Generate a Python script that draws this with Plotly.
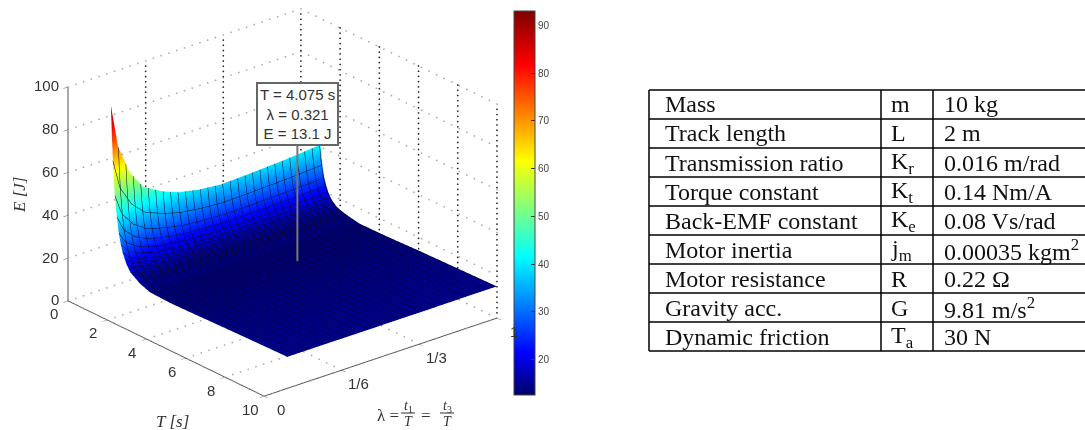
import numpy as np
import plotly.graph_objects as go

T_vals = [1, 1.05, 1.1, 1.15, 1.2, 1.3, 1.4, 1.5, 1.6, 1.8, 2, 2.5, 3, 4, 5, 6, 8, 10]
lam_vals = [.05, .065, .09, .12, .16, .195, .24, .285, .345, .425, .5]
# one row per T value, one column per lambda value
E_table = [
    [92.0, 72.0, 58.0, 49.0, 44.0, 41.0, 39.0, 38.0, 38.5, 39.5, 41.0],
    [77.8, 61.4, 49.9, 42.5, 38.4, 36.0, 34.3, 33.5, 33.9, 34.7, 36.0],
    [66.7, 53.1, 43.6, 37.5, 34.1, 32.0, 30.7, 30.0, 30.3, 31.0, 32.0],
    [58.0, 46.6, 38.7, 33.5, 30.7, 29.0, 27.8, 27.3, 27.5, 28.1, 29.0],
    [50.9, 41.3, 34.6, 30.3, 27.9, 26.4, 25.5, 25.0, 25.2, 25.7, 26.4],
    [41.4, 34.2, 29.2, 26.0, 24.2, 23.1, 22.4, 22.0, 22.2, 22.5, 23.1],
    [34.3, 28.9, 25.2, 22.7, 21.4, 20.6, 20.0, 19.8, 19.9, 20.2, 20.6],
    [29.6, 25.4, 22.5, 20.6, 19.5, 18.9, 18.5, 18.3, 18.4, 18.6, 18.9],
    [26.0, 22.7, 20.4, 18.9, 18.1, 17.6, 17.3, 17.1, 17.2, 17.4, 17.6],
    [21.3, 19.2, 17.7, 16.8, 16.3, 15.9, 15.7, 15.6, 15.7, 15.8, 15.9],
    [18.5, 17.1, 16.2, 15.5, 15.2, 15.0, 14.8, 14.8, 14.8, 14.9, 15.0],
    [15.4, 14.8, 14.4, 14.1, 13.9, 13.8, 13.8, 13.8, 13.8, 13.8, 13.8],
    [13.7, 13.4, 13.2, 13.1, 13.0, 13.0, 12.9, 12.9, 12.9, 13.0, 13.0],
    [13.3, 13.2, 13.1, 13.1, 13.1, 13.0, 13.0, 13.0, 13.0, 13.0, 13.1],
    [13.5, 13.4, 13.3, 13.3, 13.3, 13.3, 13.3, 13.3, 13.3, 13.3, 13.4],
    [13.8, 13.8, 13.7, 13.7, 13.7, 13.7, 13.7, 13.7, 13.7, 13.7, 13.8],
    [14.3, 14.3, 14.3, 14.2, 14.2, 14.2, 14.2, 14.2, 14.2, 14.3, 14.3],
    [14.7, 14.7, 14.7, 14.7, 14.7, 14.7, 14.7, 14.7, 14.7, 14.8, 14.8],
]
T_ticks = [0, 2, 4, 6, 8, 10]
lam_ticks = [0, 1/6, 1/3, 1/2]
lam_labels = ["0", "1/6", "1/3", "1"]
E_ticks = [0, 20, 40, 60, 80, 100]
cbar_ticks = [20, 30, 40, 50, 60, 70, 80, 90]
tip_T, tip_lam, tip_E, tip_top, tip_box = 4.075, 0.321, 13.1, 68.7, 82.2

param_names = ["Mass", "Track length", "Transmission ratio", "Torque constant", "Back-EMF constant",
               "Motor inertia", "Motor resistance", "Gravity acc.", "Dynamic friction"]
param_syms = ["m", "L", "K<sub>r</sub>", "K<sub>t</sub>", "K<sub>e</sub>", "j<sub>m</sub>", "R", "G", "T<sub>a</sub>"]
param_vals = ["10 kg", "2 m", "0.016 m/rad", "0.14 Nm/A", "0.08 Vs/rad", "0.00035 kgm<sup>2</sup>",
              "0.22 Ω", "9.81 m/s<sup>2</sup>", "30 N"]

W, H = 1085, 430
jet = [[0, "rgb(0,0,105)"], [.11, "rgb(0,0,255)"], [.36, "rgb(0,255,255)"],
       [.61, "rgb(255,255,0)"], [.86, "rgb(255,0,0)"], [1, "rgb(128,0,0)"]]
SCENE_DOM = dict(x=[0, 565 / W], y=[1 - 405 / H, 1])

fig = go.Figure()
fig.add_trace(go.Surface(
    x=T_vals, y=lam_vals, z=np.array(E_table).T, colorscale=jet, cmin=12.6, cmax=93,
    lighting=dict(ambient=1, diffuse=0, specular=0, roughness=1, fresnel=0),
    hoverinfo="skip",
    contours=dict(
        x=dict(show=True, start=1, end=2.5, size=0.1, color="#0a0a20", width=2),
        y=dict(show=True, start=0.05, end=0.5, size=0.016, color="#05052a", width=3),
    ),
    colorbar=dict(
        x=514 / W, xanchor="left", xpad=0, y=1 - 11 / H, yanchor="top", ypad=0,
        len=384 / H, lenmode="fraction", thickness=21, thicknessmode="pixels",
        tickvals=cbar_ticks, ticks="inside", ticklen=4, tickcolor="#333",
        tickfont=dict(family="Liberation Sans", size=10, color="#444"),
        outlinecolor="#444", outlinewidth=1,
    ),
))

Tmin, Tmax, Lmin, Lmax, Zmin, Zmax = 0, 10, 0, .5, 0, 100


def grid_dots(a, b, color, n):
    """Dotted gridline between two (T, lambda, E) corners of the axes box."""
    s = np.linspace(0, 1, n)
    fig.add_trace(go.Scatter3d(
        x=a[0] + (b[0] - a[0]) * s, y=a[1] + (b[1] - a[1]) * s, z=a[2] + (b[2] - a[2]) * s,
        mode="markers", marker=dict(size=1, color=color, line=dict(width=0)),
        showlegend=False, hoverinfo="skip"))


for t in T_ticks:
    grid_dots((t, Lmax, Zmin), (t, Lmax, Zmax), "#222", 42)
    grid_dots((t, Lmin, Zmin), (t, Lmax, Zmin), "#aaa", 31)
for l in lam_ticks:
    if l > 0:
        grid_dots((Tmin, l, Zmin), (Tmin, l, Zmax), "#222", 42)
    grid_dots((Tmin, l, Zmin), (Tmax, l, Zmin), "#aaa", 27)
for z in E_ticks:
    grid_dots((Tmin, Lmin, z), (Tmin, Lmax, z), "#aaa", 31)
    grid_dots((Tmin, Lmax, z), (Tmax, Lmax, z), "#aaa", 27)

fig.add_trace(go.Scatter3d(x=[tip_T, tip_T], y=[tip_lam, tip_lam], z=[tip_E, tip_top], mode="lines",
                           showlegend=False, hoverinfo="skip", line=dict(color="#777777", width=4)))

axis_common = dict(showgrid=False, zeroline=False, showbackground=False, showline=True,
                   linecolor="#555", linewidth=2, ticks="inside", ticklen=6, tickcolor="#555",
                   showticklabels=False, title=dict(text=""), showspikes=False)


def note(x, y, text, size=14, family="Liberation Serif", color="#333", xanchor="center", **kw):
    fig.add_annotation(x=x / W, y=1 - y / H, xref="paper", yref="paper", text=text, showarrow=False,
                       font=dict(family=family, size=size, color=color), xanchor=xanchor, yanchor="middle", **kw)


def rule(x0, y0, x1, y1, color="black", width=1.5):
    fig.add_shape(type="line", xref="paper", yref="paper", x0=x0 / W, x1=x1 / W,
                  y0=1 - y0 / H, y1=1 - y1 / H, line=dict(color=color, width=width))


note(20, 195, "<i>E [J]</i>", size=17, textangle=-90)
note(173, 421, "<i>T [s]</i>", size=17)
note(388, 415, "λ =", size=17)
note(408, 406, "<i>t</i><sub>1</sub>", size=14)
note(408, 421, "<i>T</i>", size=14)
note(426, 415, "=", size=17)
note(447, 406, "<i>t</i><sub>3</sub>", size=14)
note(447, 421, "<i>T</i>", size=14)
for bar_x in (408, 447):
    rule(bar_x - 7, 413, bar_x + 7, 413, color="#333", width=1)

# parameter table
TX = [649, 881, 933, W]
TY0, ROW = 90, 29
n_rows = len(param_names)
for i in range(n_rows + 1):
    rule(TX[0], TY0 + i * ROW, W, TY0 + i * ROW)
for x in TX[:3]:
    rule(x, TY0, x, TY0 + n_rows * ROW)
for i in range(n_rows):
    yc = TY0 + (i + 0.5) * ROW
    for x, col in zip((663, 889, 942), (param_names, param_syms, param_vals)):
        note(x, yc, col[i], size=24, color="#111", xanchor="left")

tick_font = dict(family="Liberation Sans", size=15, color="#333")
scene_notes = [dict(x=tip_T, y=tip_lam, z=tip_box, showarrow=False, bgcolor="white",
                    bordercolor="#666", borderwidth=2, borderpad=2, xanchor="center", yanchor="middle",
                    text="T = 4.075 s<br>λ = 0.321<br>E = 13.1 J",
                    font=dict(family="Liberation Sans", size=15, color="#333"))]
for e in E_ticks:
    scene_notes.append(dict(x=Tmin, y=Lmin, z=e, text=str(e), showarrow=False, font=tick_font,
                            xanchor="right", yanchor="middle", xshift=-7, yshift=1))
for t in T_ticks:
    scene_notes.append(dict(x=t, y=Lmin, z=Zmin, text=str(t), showarrow=False, font=tick_font,
                            xanchor="center", yanchor="middle", xshift=-14, yshift=-13))
for l, txt in zip(lam_ticks, lam_labels):
    scene_notes.append(dict(x=Tmax, y=l, z=Zmin, text=txt, showarrow=False, font=tick_font,
                            xanchor="center", yanchor="middle", xshift=17, yshift=-13))

fig.update_layout(
    width=W, height=H, margin=dict(l=0, r=0, t=0, b=0), paper_bgcolor="white", showlegend=False,
    scene=dict(
        domain=SCENE_DOM,
        xaxis=dict(range=[Tmin, Tmax], tickvals=T_ticks, **axis_common),
        yaxis=dict(range=[Lmin, Lmax], tickvals=lam_ticks, **axis_common),
        zaxis=dict(range=[Zmin, Zmax], tickvals=E_ticks, **axis_common),
        aspectmode="manual", aspectratio=dict(x=1.515, y=1.495, z=1.155),
        camera=dict(projection=dict(type="orthographic"), center=dict(x=0, y=0, z=0),
                    eye=dict(x=.769 * .98, y=-.639 * .98, z=.441 * .98), up=dict(x=0, y=0, z=1)),
        annotations=scene_notes,
    ),
)

fig.write_html("out.html", post_script="document.body.style.margin='0';", config={"displayModeBar": False})
